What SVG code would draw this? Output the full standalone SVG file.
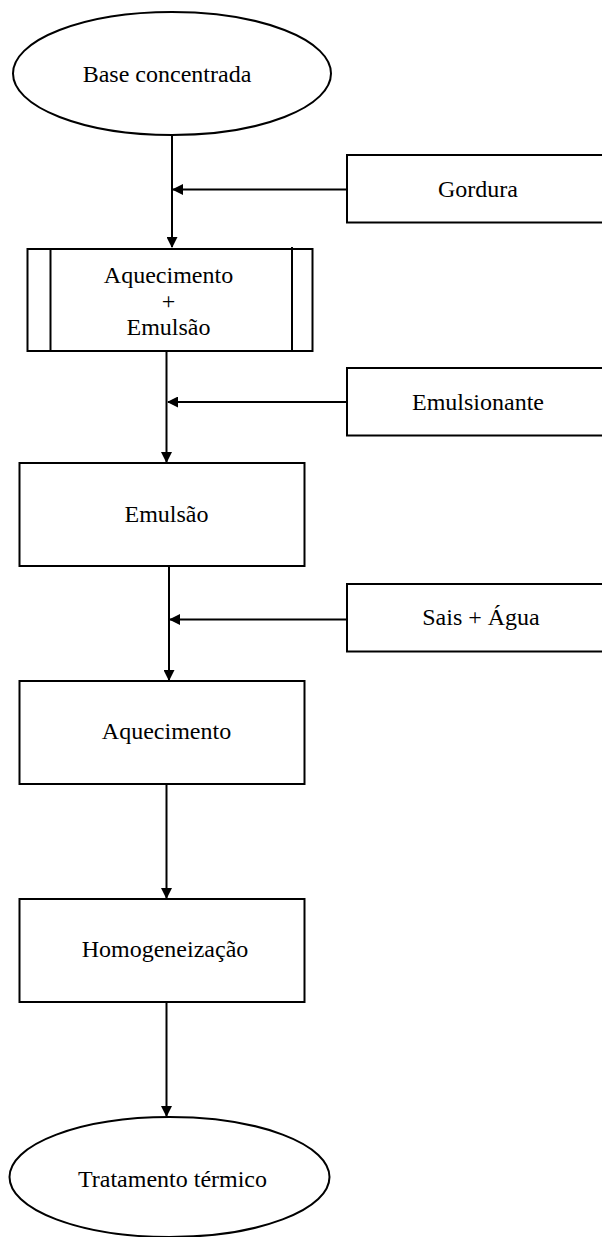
<svg xmlns="http://www.w3.org/2000/svg" width="602" height="1237" viewBox="0 0 602 1237">
<style>
.s{fill:#fff;stroke:#000;stroke-width:2}
.l{fill:none;stroke:#000;stroke-width:2}
.t{font-family:"Liberation Serif","Times New Roman",serif;font-size:24px;fill:#000;text-anchor:middle}
</style>
<defs>
<marker id="ah" markerWidth="11" markerHeight="11" refX="10" refY="5.5" orient="auto" markerUnits="userSpaceOnUse">
<path d="M0,0 L11,5.5 L0,11 Z" fill="#000"/>
</marker>
</defs>
<rect width="602" height="1237" fill="#fff"/>
<g id="connectors">
<line class="l" x1="172" y1="135" x2="172" y2="247" marker-end="url(#ah)"/>
<line class="l" x1="346" y1="189.5" x2="173" y2="189.5" marker-end="url(#ah)"/>
<line class="l" x1="166.5" y1="351" x2="166.5" y2="462" marker-end="url(#ah)"/>
<line class="l" x1="346" y1="402" x2="168" y2="402" marker-end="url(#ah)"/>
<line class="l" x1="169" y1="566" x2="169" y2="680" marker-end="url(#ah)"/>
<line class="l" x1="346" y1="619.5" x2="170" y2="619.5" marker-end="url(#ah)"/>
<line class="l" x1="166.5" y1="784" x2="166.5" y2="898" marker-end="url(#ah)"/>
<line class="l" x1="166.5" y1="1002" x2="166.5" y2="1116" marker-end="url(#ah)"/>
</g>
<g id="base">
<ellipse class="s" cx="172" cy="73.5" rx="159" ry="61.5"/>
<text class="t" x="167" y="82">Base concentrada</text>
</g>
<g id="gordura">
<rect class="s" x="347" y="155" width="265" height="67.5"/>
<text class="t" x="478" y="197">Gordura</text>
</g>
<g id="aquec-emulsao">
<rect class="s" x="27.5" y="249" width="285" height="102"/>
<line class="l" x1="50.5" y1="249" x2="50.5" y2="351"/>
<line class="l" x1="292" y1="247" x2="292" y2="351"/>
<text class="t" x="168.5" y="283">Aquecimento</text>
<text class="t" x="168.5" y="309">+</text>
<text class="t" x="168.5" y="335">Emulsão</text>
</g>
<g id="emulsionante">
<rect class="s" x="347" y="368" width="265" height="67.5"/>
<text class="t" x="478" y="409.5">Emulsionante</text>
</g>
<g id="emulsao">
<rect class="s" x="19.5" y="463" width="285" height="103"/>
<text class="t" x="166.5" y="522">Emulsão</text>
</g>
<g id="sais-agua">
<rect class="s" x="347" y="584" width="265" height="67.5"/>
<text class="t" x="481" y="625">Sais + Água</text>
</g>
<g id="aquecimento">
<rect class="s" x="19.5" y="681" width="285" height="103"/>
<text class="t" x="166.5" y="739">Aquecimento</text>
</g>
<g id="homogeneizacao">
<rect class="s" x="19.5" y="899" width="285" height="103"/>
<text class="t" x="165" y="957">Homogeneização</text>
</g>
<g id="tratamento">
<ellipse class="s" cx="169.5" cy="1177" rx="160" ry="60"/>
<text class="t" x="172.5" y="1187">Tratamento térmico</text>
</g>
</svg>
